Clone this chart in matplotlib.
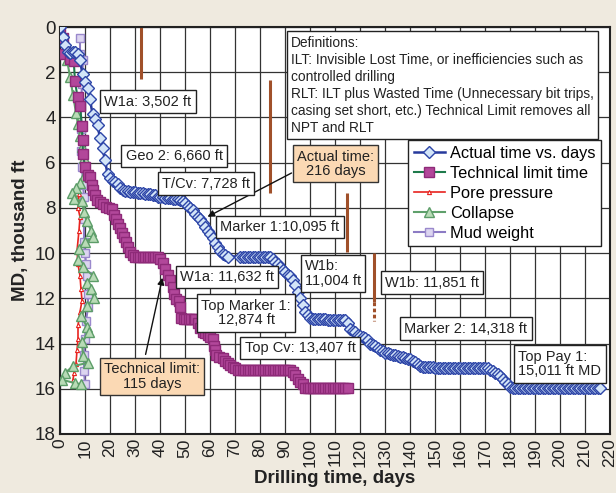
import matplotlib.pyplot as plt

# ---- Data (days, thousand ft) ----
actual_days = list(range(0, 68)) + list(range(72, 217))
actual_md = [
    0, 0.45, 0.8, 1.1, 1.15, 1.1, 1.1, 1.2, 1.45, 2.1,
    2.45, 2.7, 3.2, 3.85, 4.05, 4.35, 4.9, 5.35, 5.9, 6.5,
    6.7, 6.8, 6.85, 6.95, 7.1, 7.2, 7.25, 7.25, 7.3, 7.3,
    7.3, 7.35, 7.35, 7.35, 7.4, 7.4, 7.4, 7.45, 7.45, 7.5,
    7.5, 7.5, 7.55, 7.55, 7.55, 7.6, 7.6, 7.6, 7.65, 7.7,
    7.8, 7.9, 8.0, 8.1, 8.25, 8.4, 8.5, 8.65, 8.85, 9.0,
    9.15, 9.35, 9.55, 9.75, 9.9, 10.05, 10.1, 10.15,
    10.15, 10.15, 10.15, 10.15, 10.15, 10.15, 10.15, 10.15, 10.15, 10.15, 10.15, 10.15, 10.15,
    10.25, 10.4, 10.5, 10.6, 10.75, 10.85, 10.95, 11.0, 11.2, 11.4,
    11.7, 12.0, 12.3, 12.6, 12.75, 12.85, 12.9, 12.9, 12.9, 12.9,
    12.9, 12.9, 12.95, 12.95, 12.95, 12.95, 12.95, 12.95, 12.95, 12.95,
    13.1, 13.35, 13.45, 13.5, 13.6, 13.65, 13.7, 13.75, 13.85, 14.0,
    14.05, 14.1, 14.2, 14.3, 14.35, 14.4, 14.4, 14.45, 14.5, 14.5,
    14.55, 14.6, 14.6, 14.65, 14.7, 14.7, 14.75, 14.8, 14.9, 15.0,
    15.05, 15.05, 15.05, 15.05, 15.05, 15.1, 15.1, 15.1, 15.1, 15.1,
    15.1, 15.1, 15.1, 15.1, 15.1, 15.1, 15.1, 15.1, 15.1, 15.1,
    15.1, 15.1, 15.1, 15.1, 15.1, 15.1, 15.1, 15.15, 15.2, 15.3,
    15.35, 15.45, 15.55, 15.7, 15.8, 15.9, 15.95, 15.95, 15.95, 15.95,
    15.95, 15.95, 15.95, 15.95, 15.95, 15.95, 15.95, 15.95, 15.95, 15.95,
    15.95, 15.95, 15.95, 15.95, 15.95, 15.95, 15.95, 15.95, 15.95, 15.95,
    15.95, 15.95, 15.95, 15.95, 15.95, 15.95, 15.95, 15.95, 15.95, 15.95,
    15.95, 15.95,
]

tech_days = [0, 1, 1.5, 4, 5.5, 6, 7, 8, 8.8, 9, 9.2, 10, 11.2, 12, 12.8, 13.2, 14, 14.8,
             16, 17.2, 18.4, 19.6, 20.8, 21.6, 22.4, 23.2, 24, 24.8, 25.6, 26.4, 27.2, 28,
             29, 30, 31, 32, 33, 34, 35, 36, 37, 38, 39, 40, 41, 42, 43, 44, 45, 45.5,
             46.5, 47.5, 48, 48.5, 49.5, 50.5, 51.5, 52.5, 53.5, 54, 55, 56, 57, 58, 59,
             60, 61, 61.5, 62, 62.5, 63.5, 65, 66, 67, 68, 69, 70, 71, 72, 73, 74, 75, 76,
             77, 78, 79, 80, 81, 82, 83, 84, 85, 86, 87, 88, 89, 90, 91, 92, 93, 94, 95,
             96, 97, 98, 99, 100, 101, 102, 103, 104, 105, 106, 107, 108, 109, 110, 111,
             112, 113, 114, 115]
tech_md = [0, 0.5, 1.2, 1.4, 1.5, 2.4, 3.1, 3.5, 4.4, 5.0, 5.6, 6.2, 6.55, 6.65, 7.0, 7.2, 7.45, 7.65,
           7.75, 7.85, 7.95, 8.0, 8.05, 8.3, 8.5, 8.7, 8.9, 9.1, 9.3, 9.5, 9.75, 9.95,
           10.1, 10.15, 10.15, 10.15, 10.15, 10.15, 10.15, 10.15, 10.15, 10.15, 10.15, 10.25, 10.45, 10.7, 10.95, 11.2, 11.5, 11.8,
           12.05, 12.1, 12.4, 12.85, 12.9, 12.9, 12.9, 12.9, 12.9, 12.9, 13.1, 13.3, 13.5, 13.55, 13.6,
           13.7, 13.8, 14.1, 14.3, 14.5, 14.6, 14.65, 14.75, 14.85, 14.95, 15.05, 15.1, 15.15, 15.15, 15.15, 15.15, 15.15, 15.15,
           15.15, 15.15, 15.15, 15.15, 15.15, 15.15, 15.15, 15.15, 15.15, 15.15, 15.15, 15.15, 15.15, 15.15, 15.15, 15.15, 15.25, 15.4, 15.55,
           15.7, 15.8, 15.95, 15.95, 15.95, 15.95, 15.95, 15.95, 15.95, 15.95, 15.95, 15.95, 15.95, 15.95, 15.95, 15.95,
           15.95, 15.95, 15.95, 15.95]

pore_days = [7.6, 7.2, 8.0, 7.6, 6.8, 7.2, 8.0, 8.4, 8.8, 8.0, 7.2, 7.2, 6.8, 6.4, 5.6, 5.2]
pore_md = [7.4, 8.0, 8.4, 9.0, 9.9, 10.5, 11.0, 11.6, 12.1, 12.6, 13.2, 13.8, 14.3, 14.9, 15.3, 15.6]

collapse_days = [2.8, 4.0, 5.2, 6.4, 7.2, 8.0, 8.8, 9.6, 10.4, 9.6, 8.0, 6.4, 4.8, 5.6, 8.8, 9.6,
                 10.8, 12.4, 13.2, 10.0, 7.6, 7.2, 9.2, 13.2, 10.8, 12.4, 13.6, 10.8, 8.4, 10.8,
                 11.6, 8.8, 9.2, 11.2, 5.2, 2.0, 0.8, 6.0, 8.4]
collapse_md = [1.45, 2.2, 3.0, 3.8, 4.3, 4.8, 5.3, 5.8, 6.2, 6.6, 6.9, 7.1, 7.35, 7.6, 7.7, 8.2,
               8.6, 9.0, 9.3, 9.5, 9.8, 10.3, 10.6, 11.0, 11.3, 11.6, 12.0, 12.35, 12.8, 13.25,
               13.5, 13.95, 14.55, 14.85, 15.0, 15.3, 15.6, 15.75, 15.8]

mud_days = [8.0, 8.0, 9.2, 8.8, 8.4, 8.4, 8.4, 8.8, 9.2, 9.6, 9.6, 9.6, 10.0, 10.4, 10.8,
            11.2, 11.2, 10.4, 10.0, 9.6, 9.6, 10.0]
mud_md = [0.5, 1.2, 1.45, 2.5, 3.5, 4.5, 5.5, 6.2, 7.0, 7.5, 8.5, 9.5, 10.0, 10.5, 11.0,
          11.8, 12.4, 13.0, 13.8, 14.5, 15.2, 15.8]

# brown target bars: day, top, bottom
bar_days = [32.4, 84, 114.8, 125.6]
bar_top = [0, 2.35, 7.35, 10.0]
bar_bottom = [2.3, 7.35, 9.95, 12.15]
bar4_dotted = [12.15, 13.0]

# labels: text, day, md, align
labels = [
    ("W1a: 3,502 ft", 35.2, 3.3, "center"),
    ("Geo 2: 6,660 ft", 45.6, 5.7, "center"),
    ("T/Cv: 7,728 ft", 58.4, 6.93, "center"),
    ("Marker 1:10,095 ft", 88, 8.84, "center"),
    ("W1a: 11,632 ft", 66.8, 11.06, "center"),
    ("Top Marker 1:\n12,874 ft", 74.4, 12.65, "center"),
    ("Top Cv: 13,407 ft", 96, 14.2, "center"),
    ("W1b:\n11,004 ft", 109.2, 10.9, "left"),
    ("W1b: 11,851 ft", 148.8, 11.3, "center"),
    ("Marker 2: 14,318 ft", 162.4, 13.35, "center"),
    ("Top Pay 1:\n15,011 ft MD", 200, 14.9, "left"),
]

definitions = ("Definitions:\n"
               "ILT: Invisible Lost Time, or inefficiencies such as\n"
               "controlled drilling\n"
               "RLT: ILT plus Wasted Time (Unnecessary bit trips,\n"
               "casing set short, etc.) Technical Limit removes all\n"
               "NPT and RLT")

plt.rcParams["font.family"] = ["Liberation Sans", "DejaVu Sans"]
ink = "#222222"

fig = plt.figure(figsize=(6.16, 4.93), dpi=100, facecolor="#EFEADF")
ax = fig.add_axes([60 / 616, 1 - 434 / 493, 550 / 616, 407 / 493])
ax.set_facecolor("white")

ax.set_xlim(0, 220)
ax.set_ylim(18, 0)
ax.set_xticks(range(0, 221, 10))
ax.set_yticks(range(0, 19, 2))
ax.grid(True, color="#333333", lw=0.9)
ax.set_axisbelow(True)
ax.tick_params(length=0, pad=3)
ax.tick_params(axis="x", labelsize=12.5, labelrotation=90, colors=ink)
ax.tick_params(axis="y", labelsize=13.5, colors=ink)
for s in ax.spines.values():
    s.set_linewidth(1.5)
    s.set_color(ink)

ax.set_ylabel("MD, thousand ft", fontsize=13.5, fontweight="bold", color=ink, labelpad=4)
ax.set_xlabel("Drilling time, days", fontsize=13.5, fontweight="bold", color=ink, labelpad=2)

# brown bars
for d, t, b in zip(bar_days, bar_top, bar_bottom):
    ax.plot([d, d], [t, b], color="#A0502A", lw=2.2, solid_capstyle="butt", zorder=2)
ax.plot([bar_days[3], bar_days[3]], bar4_dotted, color="#A0502A", lw=2.2,
        ls=(0, (1.2, 0.8)), zorder=2)

# curves
ax.plot(mud_days, mud_md, color="#8C7BC4", lw=1.5, marker="s", ms=5.5,
        mfc="#DCD5F0", mec="#9A89CC", mew=1, label="Mud weight", zorder=3)
ax.plot(pore_days, pore_md, color="#E8231F", lw=1.2, marker="^", ms=3,
        mfc="white", mec="#E8231F", mew=0.8, label="Pore pressure", zorder=3)
ax.plot(collapse_days, collapse_md, color="#5FA06B", lw=1.5, marker="^", ms=6.5,
        mfc="#B8DBB6", mec="#5C9D68", mew=1, label="Collapse", zorder=4)
ax.plot(tech_days, tech_md, color="#1E7A4B", lw=1.5, marker="s", ms=6.5,
        mfc="#B2479A", mec="#8E2A78", mew=1, label="Technical limit time", zorder=5)
ax.plot(actual_days, actual_md, color="#27399C", lw=1.8, marker="D", ms=5.8,
        mfc="#D3E5F8", mec="#2E46A8", mew=1, label="Actual time vs. days", zorder=6)

# text labels
box = dict(boxstyle="square,pad=0.3", fc="white", ec=ink, lw=1)
for txt, d, m, al in labels:
    ax.text(d, m, txt, ha="center", va="center", multialignment=al, fontsize=10.5,
            color=ink, bbox=box, zorder=8, linespacing=1.05)

ax.text(92.4, 0.38, definitions, ha="left", va="top", fontsize=9.9,
        color=ink, linespacing=1.28, zorder=8,
        bbox=dict(boxstyle="square,pad=0.3", fc="white", ec=ink, lw=1))

peach = dict(boxstyle="square,pad=0.3", fc="#FBD9B4", ec="#333333", lw=1)
ax.text(110.2, 6.05, "Actual time:\n216 days", ha="center", va="center", fontsize=10.5,
        color=ink, bbox=peach, zorder=9, linespacing=1.05)
ax.text(36.8, 15.46, "Technical limit:\n115 days", ha="center", va="center", fontsize=10.5,
        color=ink, bbox=peach, zorder=9, linespacing=1.05)

arrow = dict(arrowstyle="-|>", color="#111111", lw=1, mutation_scale=10)
ax.annotate("", xy=(58, 8.45), xytext=(93.6, 6.4), arrowprops=arrow, zorder=7)
ax.annotate("", xy=(41.2, 10.97), xytext=(34, 14.6), arrowprops=arrow, zorder=7)

# legend
handles, names = ax.get_legend_handles_labels()
order = [4, 3, 1, 2, 0]
leg = ax.legend([handles[i] for i in order], [names[i] for i in order],
                loc="upper left", bbox_to_anchor=(0.633, 0.722), frameon=True,
                fancybox=False, edgecolor=ink, framealpha=1,
                prop={"size": 11.8}, handlelength=1.9,
                handletextpad=0.3, labelspacing=0.3, borderpad=0.35, borderaxespad=0)
leg.get_frame().set_linewidth(1)
leg.set_zorder(10)

fig.savefig("out.png", dpi=100, facecolor=fig.get_facecolor())
